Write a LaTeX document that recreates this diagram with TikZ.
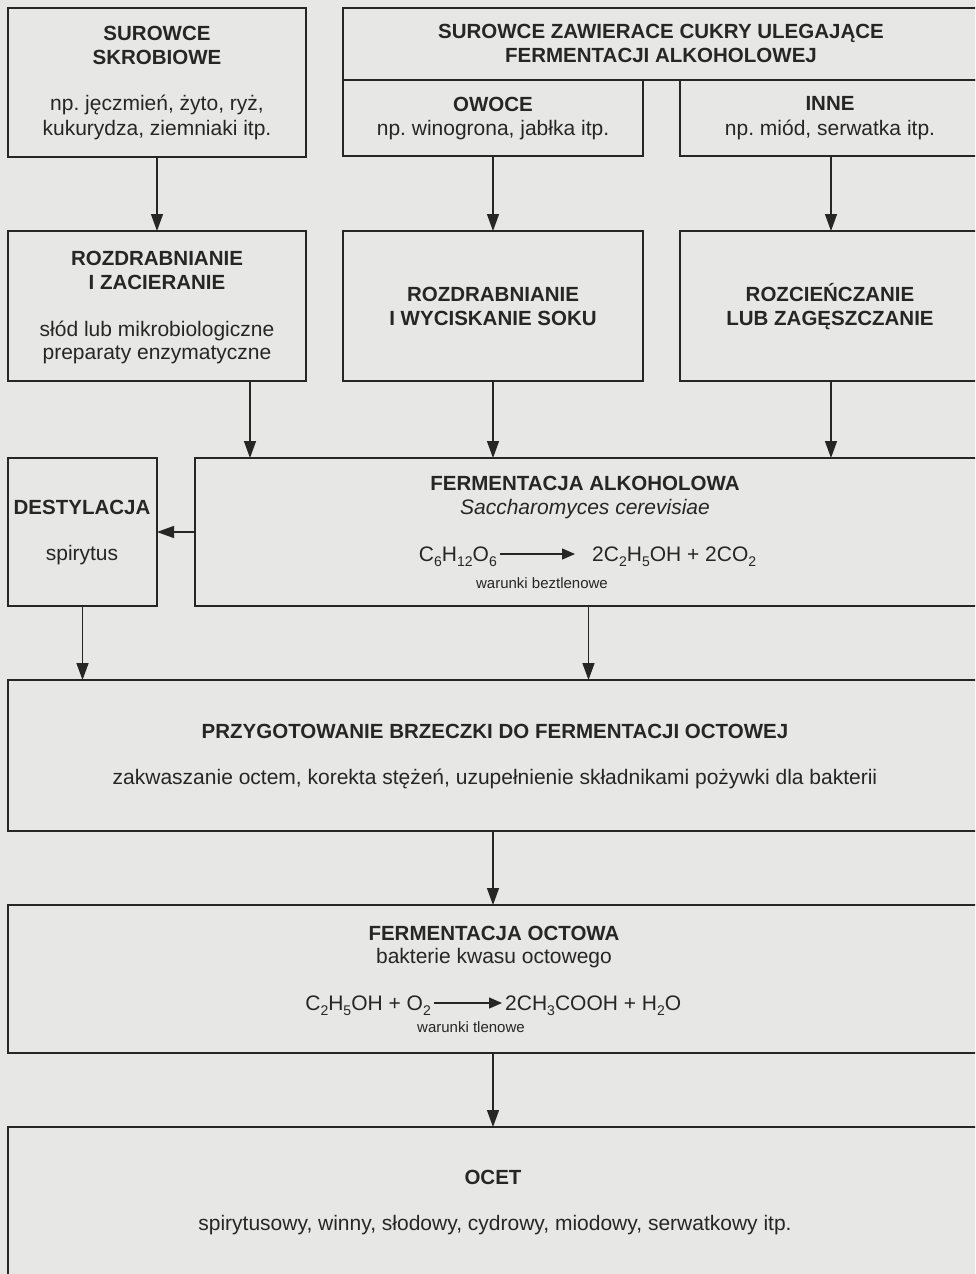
\documentclass[tikz,border=0pt]{standalone}
\usepackage{fontspec}
\setmainfont{Liberation Sans}
\usetikzlibrary{arrows.meta}
\definecolor{paper}{RGB}{231,231,229}
\definecolor{ink}{RGB}{38,38,38}
\newcommand{\chs}[1]{\raisebox{-0.28em}{\fontsize{14}{14}\selectfont #1}}
\frenchspacing
\begin{document}
\begin{tikzpicture}[x=1pt,y=-1pt,
  box/.style={draw=ink,line width=1.9pt,inner sep=0pt,outer sep=0pt},
  hd/.style={font=\fontsize{20.5}{24}\selectfont\bfseries,text=ink,anchor=base,inner sep=0pt},
  tx/.style={font=\fontsize{21}{24}\selectfont,text=ink,anchor=base,inner sep=0pt},
  sm/.style={font=\fontsize{15}{18}\selectfont,text=ink,anchor=base,inner sep=0pt},
  arr/.style={draw=ink,line width=1.4pt,-{Triangle[length=17pt,width=12pt]}},
  eqarr/.style={draw=ink,line width=1.3pt,-{Triangle[length=13pt,width=11pt]}}]
\useasboundingbox (0,0) rectangle (975,1274);
\clip (0,0) rectangle (975,1274);
\fill[paper] (0,0) rectangle (975,1274);

% boxes
\node[box,minimum width=298,minimum height=149] (sk) at (157,82.5) {};
\node[box,minimum width=639,minimum height=72] (top) at (662.5,44) {};
\node[box,minimum width=300,minimum height=76] (ow) at (493,118) {};
\node[box,minimum width=302,minimum height=76] (inne) at (831,118) {};
\node[box,minimum width=298,minimum height=150] (zac) at (157,306) {};
\node[box,minimum width=300,minimum height=150] (wyc) at (493,306) {};
\node[box,minimum width=302,minimum height=150] (roz) at (831,306) {};
\node[box,minimum width=149,minimum height=148] (des) at (82.5,532) {};
\node[box,minimum width=787,minimum height=148] (fa) at (588.5,532) {};
\node[box,minimum width=974,minimum height=151] (prz) at (495,755.5) {};
\node[box,minimum width=974,minimum height=148] (fo) at (495,979) {};
\node[box,minimum width=974,minimum height=158] (ocet) at (495,1206) {};

% texts
\node[hd] (t1a) at (157,40.5) {SUROWCE};
\node[hd] (t1b) at (157,64.5) {SKROBIOWE};
\node[tx] (t1c) at (157,110) {np. jęczmień, żyto, ryż,};
\node[tx] (t1d) at (157,135) {kukurydza, ziemniaki itp.};
\node[hd] (t2a) at (661,38.5) {SUROWCE ZAWIERACE CUKRY ULEGAJĄCE};
\node[hd] (t2b) at (661,62.5) {FERMENTACJI ALKOHOLOWEJ};
\node[hd] (t3a) at (493,111.5) {OWOCE};
\node[tx] (t3b) at (493,135) {np. winogrona, jabłka itp.};
\node[hd] (t4a) at (830,110.5) {INNE};
\node[tx] (t4b) at (830,135) {np. miód, serwatka itp.};
\node[hd] (t5a) at (157,265.5) {ROZDRABNIANIE};
\node[hd] (t5b) at (157,289.5) {I ZACIERANIE};
\node[tx] (t5c) at (157,336) {słód lub mikrobiologiczne};
\node[tx] (t5d) at (157,359) {preparaty enzymatyczne};
\node[hd] (t6a) at (493,301.5) {ROZDRABNIANIE};
\node[hd] (t6b) at (493,325.5) {I WYCISKANIE SOKU};
\node[hd] (t7a) at (830,301.5) {ROZCIEŃCZANIE};
\node[hd] (t7b) at (830,325.5) {LUB ZAGĘSZCZANIE};
\node[hd] (t8a) at (82,514.5) {DESTYLACJA};
\node[tx] (t8b) at (82,560) {spirytus};
\node[hd] (t9a) at (585,490.5) {FERMENTACJA ALKOHOLOWA};
\node[tx,font=\fontsize{21}{24}\selectfont\itshape] (t9b) at (585,514) {Saccharomyces cerevisiae};
\node[tx,anchor=base east] (e1l) at (497,561) {C\chs{6}H\chs{12}O\chs{6}};
\node[tx,anchor=base west] (e1r) at (592,561) {2C\chs{2}H\chs{5}OH + 2CO\chs{2}};
\draw[eqarr] ([shift={(3,-7)}]e1l.base east) -- ([shift={(-17,-7)}]e1r.base west);
\node[sm] (w1) at (542,588) {warunki beztlenowe};
\node[hd] (t10a) at (495,738.5) {PRZYGOTOWANIE BRZECZKI DO FERMENTACJI OCTOWEJ};
\node[tx] (t10b) at (495,784) {zakwaszanie octem, korekta stężeń, uzupełnienie składnikami pożywki dla bakterii};
\node[hd] (t11a) at (494,940.5) {FERMENTACJA OCTOWA};
\node[tx] (t11b) at (494,963) {bakterie kwasu octowego};
\node[tx,anchor=base east] (e2l) at (431,1010) {C\chs{2}H\chs{5}OH + O\chs{2}};
\node[tx,anchor=base west] (e2r) at (505,1010) {2CH\chs{3}COOH + H\chs{2}O};
\draw[eqarr] ([shift={(3,-7)}]e2l.base east) -- ([shift={(-3,-7)}]e2r.base west);
\node[sm] (w2) at (471,1032) {warunki tlenowe};
\node[hd] (t12a) at (493,1184.5) {OCET};
\node[tx] (t12b) at (495,1230) {spirytusowy, winny, słodowy, cydrowy, miodowy, serwatkowy itp.};

% connectors
\draw[arr] (sk.south) -- (zac.north);
\draw[arr] (ow.south) -- (wyc.north);
\draw[arr] (inne.south) -- (roz.north);
\draw[arr] ([xshift=93pt]zac.south) -- ([xshift=93pt]zac.south |- fa.north);
\draw[arr] (wyc.south) -- (wyc.south |- fa.north);
\draw[arr] (roz.south) -- (roz.south |- fa.north);
\draw[arr] (fa.west) -- (des.east);
\draw[arr] (des.south) -- (des.south |- prz.north);
\draw[arr] (fa.south) -- (fa.south |- prz.north);
\draw[arr] ([xshift=-2pt]prz.south) -- ([xshift=-2pt]fo.north);
\draw[arr] ([xshift=-2pt]fo.south) -- ([xshift=-2pt]ocet.north);
\end{tikzpicture}
\end{document}
